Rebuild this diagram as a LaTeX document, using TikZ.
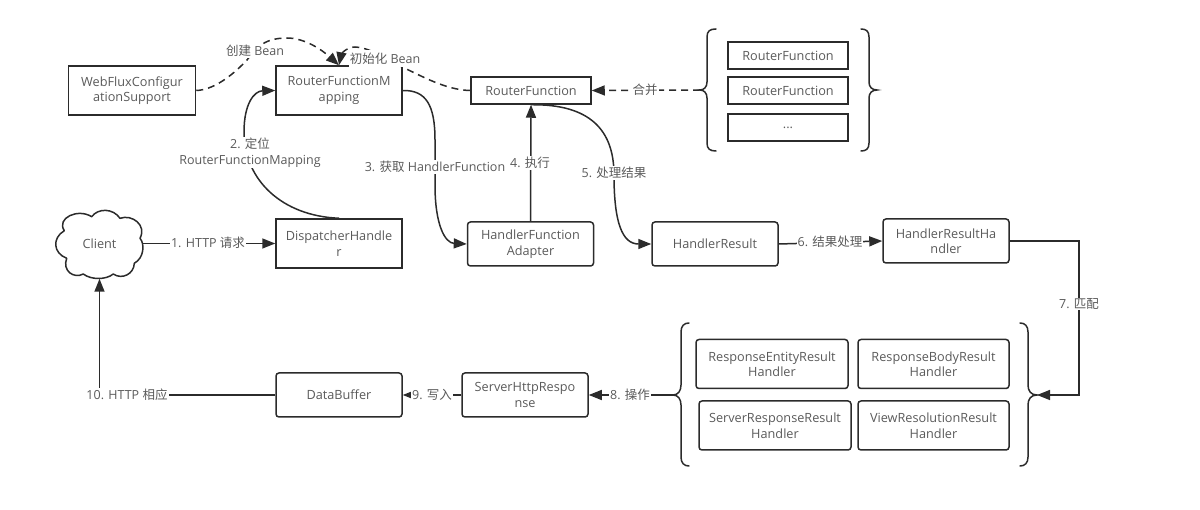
\documentclass[tikz,border=0pt]{standalone}
\usepackage{fontspec}
\setmainfont{Open Sans}
\newfontfamily\cjk{Noto Sans CJK SC}
\usetikzlibrary{arrows.meta}
\definecolor{ink}{HTML}{2B2B2B}
\definecolor{labelgray}{HTML}{5A5A5A}
\tikzset{
  base/.style={draw=ink,line width=1.5pt,text=labelgray,align=center,inner sep=0pt,
    font=\fontsize{12.7}{15.5}\selectfont},
  sqbox/.style={base,rectangle},
  rdbox/.style={base,rectangle,rounded corners=3pt},
  flow/.style={draw=ink,line width=1.5pt,-{Triangle[length=13pt,width=10pt]}},
  dashflow/.style={flow,dash pattern=on 7pt off 5pt},
  brace/.style={draw=ink,line width=1.5pt,line cap=round},
  tag/.style={fill=white,text=labelgray,align=center,inner sep=1pt,
    font=\fontsize{12.5}{15.5}\selectfont},
}
\begin{document}
\begin{tikzpicture}[x=1pt,y=-1pt]
\useasboundingbox (0,0) rectangle (1200,510);

% Processing nodes
\node[sqbox,minimum width=127pt,minimum height=49pt] (config) at (132,90.5) {WebFluxConfigur\\ationSupport};
\node[sqbox,minimum width=126pt,minimum height=49pt] (mapping) at (339,90.5) {RouterFunctionM\\apping};
\node[sqbox,minimum width=120pt,minimum height=27pt] (router) at (531,90.5) {RouterFunction};
\node[sqbox,minimum width=126pt,minimum height=49pt] (dispatcher) at (339,243.5) {DispatcherHandle\\r};
\node[rdbox,minimum width=126pt,minimum height=44pt] (adapter) at (530.5,244) {HandlerFunction\\Adapter};
\node[rdbox,minimum width=126pt,minimum height=44pt] (result) at (715,244) {HandlerResult};
\node[rdbox,minimum width=126pt,minimum height=44pt] (resulthandler) at (946,241) {HandlerResultHa\\ndler};
\node[rdbox,minimum width=126pt,minimum height=44pt] (buffer) at (339,395) {DataBuffer};
\node[rdbox,minimum width=126pt,minimum height=44pt] (response) at (525,395) {ServerHttpRespo\\nse};

% Client cloud: the outline is drawn by hand, the node carries the text and anchors
\draw[brace,line join=round] (64.3,230.7) .. controls (56,218) and (78,208) .. (91.7,216.7)
  .. controls (98,208) and (113,208) .. (120,218.3)
  .. controls (132,214) and (147,225) .. (140,238.3)
  .. controls (145,244) and (144,258) .. (134.3,263.3)
  .. controls (134,274) and (122,280) .. (113.3,274)
  .. controls (106,280) and (91,280) .. (83.3,274)
  .. controls (74,279) and (62,271) .. (66.7,258.3)
  .. controls (53,253) and (52,238) .. cycle;
\node[base,draw=none,rectangle,minimum width=84pt,minimum height=68pt] (client) at (99.5,244) {Client};

% Router function group
\node[sqbox,minimum width=120pt,minimum height=27pt] (rfa) at (788,55.5) {RouterFunction};
\node[sqbox,minimum width=120pt,minimum height=27pt] (rfb) at (788,90.5) {RouterFunction};
\node[sqbox,minimum width=120pt,minimum height=27pt] (rfc) at (788,127.5) {...};

% Result handler group
\node[rdbox,minimum width=152pt,minimum height=49pt] (entity) at (772,364) {ResponseEntityResult\\Handler};
\node[rdbox,minimum width=151pt,minimum height=49pt] (body) at (933.5,364) {ResponseBodyResult\\Handler};
\node[rdbox,minimum width=152pt,minimum height=49pt] (server) at (775,425.5) {ServerResponseResult\\Handler};
\node[rdbox,minimum width=151pt,minimum height=49pt] (view) at (933.5,425.5) {ViewResolutionResult\\Handler};

% Braces around the groups
\coordinate (rfbraceL) at (700,90);
\coordinate (hbraceL) at (673,395);
\coordinate (hbraceR) at (1037,395);
\draw[brace] (716,29) .. controls (710,29) and (707,31) .. (707,37) -- (707,82)
  .. controls (707,87) and (704,90) .. (rfbraceL) .. controls (704,90) and (707,93) .. (707,98)
  -- (707,143) .. controls (707,149) and (710,151) .. (716,151);
\draw[brace] (861,29) .. controls (866,29) and (869,31) .. (869,37) -- (869,82)
  .. controls (869,87) and (872,90) .. (877,90) .. controls (872,90) and (869,93) .. (869,98)
  -- (869,143) .. controls (869,149) and (866,151) .. (861,151);
\draw[brace] (689,323) .. controls (684,323) and (681,326) .. (681,332) -- (681,385)
  .. controls (681,391) and (678,395) .. (hbraceL) .. controls (678,395) and (681,399) .. (681,405)
  -- (681,457) .. controls (681,463) and (684,466) .. (689,466);
\draw[brace] (1020,323) .. controls (1025,323) and (1028,326) .. (1028,332) -- (1028,385)
  .. controls (1028,391) and (1031,395) .. (hbraceR) .. controls (1031,395) and (1028,399) .. (1028,405)
  -- (1028,457) .. controls (1028,463) and (1025,466) .. (1020,466);

% Connectors
\draw[flow] (client.east |- dispatcher.west) -- (dispatcher.west);
\draw[flow] (dispatcher.north) .. controls (282,216) and (244,180) .. (244,132)
  .. controls (244,104) and (254,91) .. (mapping.west);
\draw[flow] (mapping.east) .. controls (426,90) and (435,105) .. (435,140) -- (435,185)
  .. controls (435,225) and (445,243) .. (adapter.west);
\draw[flow] (adapter.north) -- (router.south);
\draw[flow] (router.south) .. controls (590,104) and (614,130) .. (614,175)
  .. controls (614,222) and (622,244) .. (result.west);
\draw[flow] (result.east) -- (resulthandler.west);
\draw[flow] (resulthandler.east) -| (1079,395) -- (hbraceR);
\draw[flow] (hbraceL) -- (response.east);
\draw[flow] (response.west) -- (buffer.east);
\draw[flow] (buffer.west) -| (client.south);

\draw[dashflow] (config.east) .. controls (212,90) and (230,78) .. (247,60)
  .. controls (255,50) and (262,38) .. (287,38)
  .. controls (305,38) and (322,50) .. (mapping.north);
\draw[dashflow] (router.west) .. controls (445,90) and (420,75) .. (402,67)
  .. controls (385,58) and (368,47) .. (355,47)
  .. controls (346,47) and (341,55) .. (mapping.north);
\draw[dashflow] (rfbraceL) -- (router.east);

% Connector labels
\node[tag] (l1) at (208,243) {1. HTTP \cjk 请求};
\node[tag] (l2) at (250,152.5) {2. {\cjk 定位}\\RouterFunctionMapping};
\node[tag] (l3) at (435,167) {3. {\cjk 获取} HandlerFunction};
\node[tag] (l4) at (530,163) {4. {\cjk 执行}};
\node[tag] (l5) at (614,173) {5. {\cjk 处理结果}};
\node[tag] (l6) at (830,242) {6. {\cjk 结果处理}};
\node[tag] (l7) at (1079,304) {7. {\cjk 匹配}};
\node[tag] (l8) at (630,395) {8. {\cjk 操作}};
\node[tag] (l9) at (432,395) {9. {\cjk 写入}};
\node[tag] (l10) at (127,395) {10. HTTP {\cjk 相应}};
\node[tag] (lcreate) at (255,51) {{\cjk 创建} Bean};
\node[tag,minimum height=17pt] (linit) at (385,59) {{\cjk 初始化} Bean};
\node[tag] (lmerge) at (645,90) {{\cjk 合并}};
\end{tikzpicture}
\end{document}
